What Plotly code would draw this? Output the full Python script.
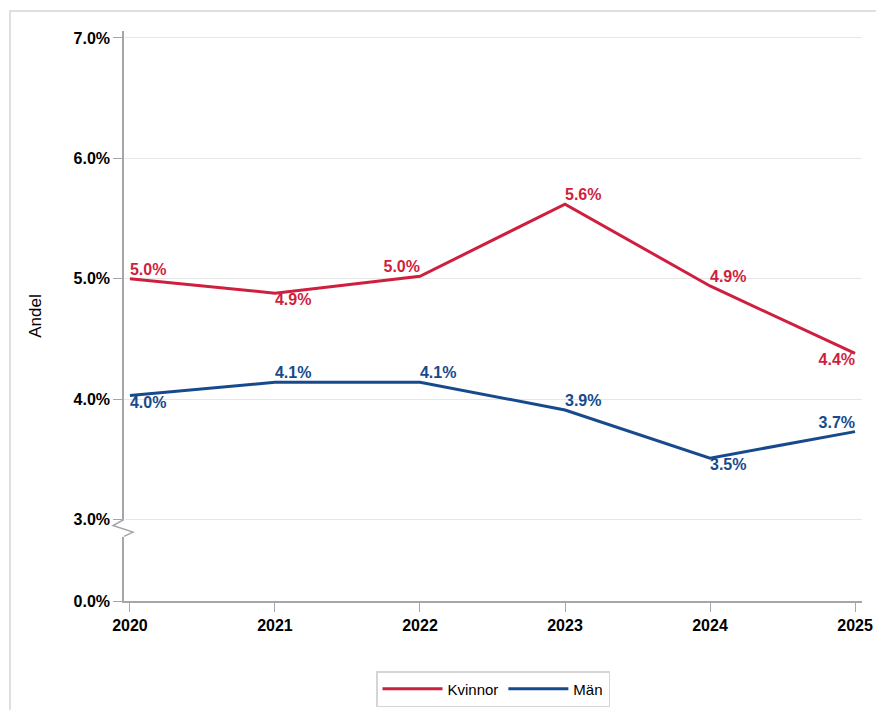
import plotly.graph_objects as go

# data
years = [2020, 2021, 2022, 2023, 2024, 2025]
kvinnor = [5.00, 4.88, 5.02, 5.62, 4.94, 4.38]
man = [4.03, 4.14, 4.14, 3.91, 3.51, 3.73]
kvinnor_pos = ["top right", "bottom right", "top left", "top right", "top right", "bottom left"]
man_pos = ["bottom right", "top right", "top right", "top right", "bottom right", "top left"]

# broken y axis: 0.0% sits just below the 3.0% line
zero_pos = 2.323
tick_vals = [zero_pos, 3, 4, 5, 6, 7]
tick_text = ["0.0%", "3.0%", "4.0%", "5.0%", "6.0%", "7.0%"]

RED = "#CF1F3E"
BLUE = "#174A8C"
AXIS = "#A3A7AB"
FONT = "Liberation Sans, Arial, sans-serif"


def make_trace(name, values, positions, color):
    return go.Scatter(
        x=years, y=values, name=name, mode="lines+text",
        line=dict(color=color, width=3),
        text=[f"{v:.1f}%" for v in values],
        textposition=positions,
        textfont=dict(family=FONT, size=16, color=color, weight="bold"),
        cliponaxis=False,
    )


fig = go.Figure([
    make_trace("Kvinnor", kvinnor, kvinnor_pos, RED),
    make_trace("Män", man, man_pos, BLUE),
])

fig.update_layout(
    width=868, height=702,
    margin=dict(l=116, r=14, t=23, b=109, autoexpand=False),
    plot_bgcolor="white", paper_bgcolor="white",
    font=dict(family=FONT, size=15, color="black"),
    legend=dict(
        orientation="h", x=0.5, xanchor="center", y=-0.186, yanchor="bottom",
        bordercolor="#D5D5D5", borderwidth=1.5, font=dict(size=15),
        itemwidth=60, tracegroupgap=0,
    ),
    shapes=[
        # outer frame
        dict(type="rect", xref="paper", yref="paper", x0=-0.1545, x1=1.2,
             y0=-0.4, y1=1.035, line=dict(color="#D5D5D5", width=1.5), layer="below"),
        # hide the axis segment at the break
        dict(type="line", xref="x domain", yref="y", x0=0, x1=0, y0=3.0, y1=2.855,
             line=dict(color="white", width=4), layer="above"),
        # zigzag break marker
        dict(type="path", xref="x domain", yref="y",
             path="M0,3.0 L-0.0149,2.95 L0.0122,2.895 L0,2.86",
             line=dict(color=AXIS, width=1.5), layer="above"),
    ],
)

fig.update_xaxes(
    range=[2019.959, 2025.048],
    tickvals=years, ticks="outside", ticklen=9, tickcolor=AXIS,
    showline=True, linecolor=AXIS, linewidth=1.5, showgrid=False, zeroline=False,
    tickfont=dict(size=16, weight="bold"),
)
fig.update_yaxes(
    range=[zero_pos, 7.058],
    tickvals=tick_vals, ticktext=tick_text, ticks="outside", ticklen=9, tickcolor=AXIS,
    showline=True, linecolor=AXIS, linewidth=1.5,
    showgrid=True, gridcolor="#E6E6E6", gridwidth=1, zeroline=False,
    tickfont=dict(size=16, weight="bold"),
    title=dict(text="Andel", font=dict(size=17), standoff=28),
)

fig.write_html("out.html")
